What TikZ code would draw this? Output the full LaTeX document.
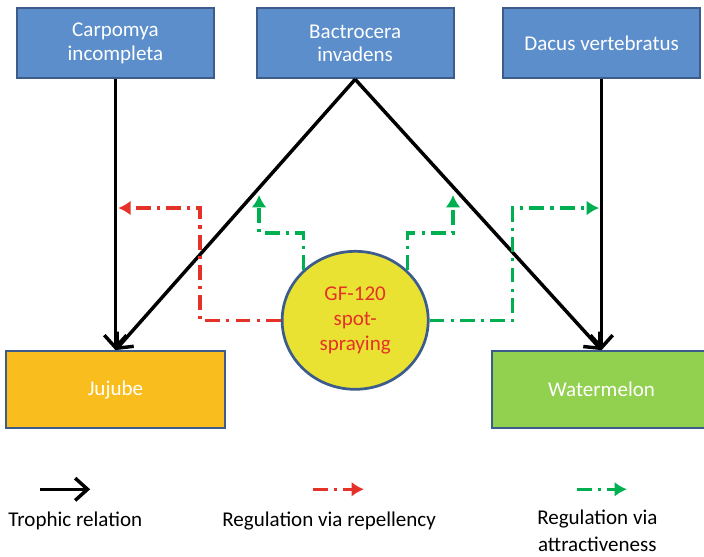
\documentclass[tikz,border=0pt]{standalone}
\usepackage{fontspec}
\setmainfont{Carlito}
\usepackage{xcolor}
\usetikzlibrary{shapes.geometric,arrows.meta}
\definecolor{fly}{RGB}{91,142,203}
\definecolor{edge}{RGB}{60,92,140}
\definecolor{jujube}{RGB}{249,190,30}
\definecolor{melon}{RGB}{146,208,80}
\definecolor{bait}{RGB}{234,226,50}
\definecolor{repel}{RGB}{228,50,40}
\definecolor{attract}{RGB}{0,176,80}
\tikzstyle{flybox}=[rectangle, draw=edge, line width=1.6pt, fill=fly, text=white, minimum width=5.6cm, minimum height=1.99cm, align=center, font=\fontsize{17}{19}\selectfont]
\tikzstyle{plantbox}=[rectangle, draw=edge, line width=1.6pt, text=white, minimum width=6.22cm, minimum height=2.19cm, font=\fontsize{17}{19}\selectfont]
\tikzstyle{spraying}=[ellipse, draw=edge, line width=2.2pt, fill=bait, text=repel, minimum width=4.15cm, minimum height=3.92cm, align=center, font=\fontsize{17}{20}\selectfont]
\tikzstyle{trophic}=[-{Straight Barb[length=10pt,width=18pt]}, line width=2.8pt, color=black]
\tikzstyle{repellency}=[-{Latex[length=10pt,width=12pt]}, line width=2.6pt, color=repel, dash pattern=on 12pt off 5pt on 2.5pt off 5pt]
\tikzstyle{attraction}=[-{Latex[length=10pt,width=12pt]}, line width=2.6pt, color=attract, dash pattern=on 12pt off 5pt on 2.5pt off 5pt]
\tikzstyle{legend}=[align=center, font=\fontsize{17}{21.8}\selectfont]

\begin{document}
\begin{tikzpicture}
  \useasboundingbox (0,0) rectangle (20,15.8);
  %% Flies
  \draw (3.28,14.57) node[flybox] (Carp) {Carpomya\\incompleta};
  \draw (10.09,14.57) node[flybox] (Bact) {Bactrocera\\invadens};
  \draw (17.09,14.57) node[flybox] (Dacus) {Dacus vertebratus};

  %% Host plants
  \draw (3.28,4.73) node[plantbox, fill=jujube] (Jujube) {Jujube};
  \draw (17.09,4.73) node[plantbox, fill=melon] (Melon) {Watermelon};

  \draw[trophic] (Carp.south) -- (Jujube.north);
  \draw[trophic] (Bact.south) -- (Jujube.north);
  \draw[trophic] (Bact.south) -- (Melon.north);
  \draw[trophic] (Dacus.south) -- (Melon.north);

  %% Bait spraying
  \draw (10.09,6.70) node[spraying] (GF) {GF-120\\spot-\\spraying};

  \coordinate (rJ) at (3.36,9.89);
  \coordinate (gL) at (7.36,10.26);
  \coordinate (gR) at (12.87,10.26);
  \coordinate (gD) at (17.02,9.89);

  \draw[repellency] (GF.west) -| (5.68,9.89) -- (rJ);
  \draw[attraction] (GF.136) |- (7.36,9.18) -- (gL);
  \draw[attraction] (GF.44) |- (12.87,9.18) -- (gR);
  \draw[attraction] (GF.east) -| (14.57,9.89) -- (gD);

  %% Legend things
  \coordinate (k1) at (1.14,1.90);
  \coordinate (k2) at (2.56,1.90);
  \coordinate (k3) at (8.89,1.90);
  \coordinate (k4) at (10.34,1.90);
  \coordinate (k5) at (16.39,1.90);
  \coordinate (k6) at (17.81,1.90);
  \draw[trophic] (k1) -- (k2);
  \draw[repellency] (k3) -- (k4);
  \draw[attraction] (k5) -- (k6);
  \draw (2.14,0.99) node[legend] (L1) {Trophic relation};
  \draw (9.35,0.99) node[legend] (L2) {Regulation via repellency};
  \draw (16.97,0.71) node[legend] (L3) {Regulation via\\attractiveness};
\end{tikzpicture}
\end{document}
